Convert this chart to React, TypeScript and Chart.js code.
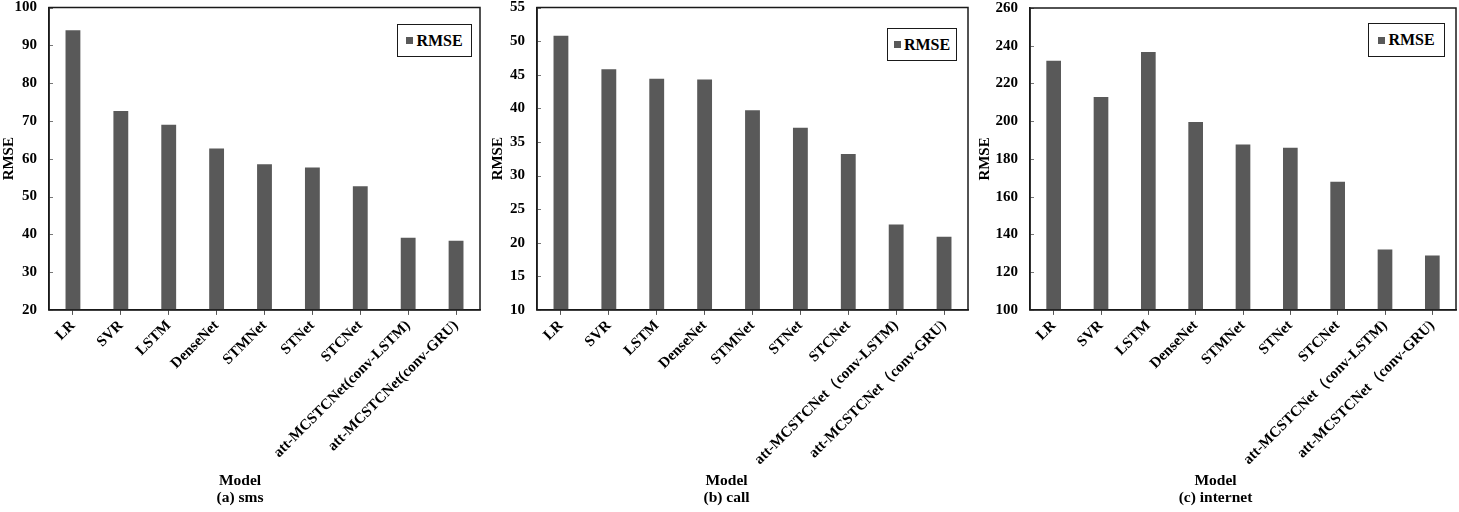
import React, { useEffect, useRef } from "react";
import { Chart, registerables } from "chart.js";

Chart.register(...registerables);

// ---- data ----
const modelsSms = [
  "LR", "SVR", "LSTM", "DenseNet", "STMNet", "STNet", "STCNet",
  "att-MCSTCNet(conv-LSTM)", "att-MCSTCNet(conv-GRU)",
];
const modelsCall = [
  "LR", "SVR", "LSTM", "DenseNet", "STMNet", "STNet", "STCNet",
  "att-MCSTCNet（conv-LSTM)", "att-MCSTCNet（conv-GRU)",
];
const modelsInternet = [
  "LR", "SVR", "LSTM", "DenseNet", "STMNet", "STNet", "STCNet",
  "att-MCSTCNet（conv-LSTM)", "att-MCSTCNet（conv-GRU)",
];
const rmseSms = [94.0, 72.6, 69.0, 62.7, 58.5, 57.7, 52.7, 39.1, 38.3];
const rmseCall = [50.8, 45.8, 44.4, 44.3, 39.7, 37.1, 33.2, 22.7, 20.9];
const rmseInternet = [232.1, 212.8, 236.7, 199.6, 187.7, 186.0, 167.9, 132.0, 128.8];

// y-axis ranges: [min, max, step]
const yRangeSms = [20, 100, 10];
const yRangeCall = [10, 55, 5];
const yRangeInternet = [100, 260, 20];

const seriesName = "RMSE";
const xTitle = "Model";
const subtitleSms = "(a) sms";
const subtitleCall = "(b) call";
const subtitleInternet = "(c) internet";

const BAR = "#595959";
const INK = "#1a1a1a";
const SERIF = '"Liberation Serif", "Times New Roman", serif';

const framePlugin = {
  id: "frame",
  afterDatasetsDraw(chart: any) {
    const { ctx, chartArea } = chart;
    const { left, top, right, bottom } = chartArea;
    ctx.save();
    // inward y tick marks
    const ys = chart.scales.y;
    ctx.strokeStyle = "#777";
    ctx.lineWidth = 1;
    ys.ticks.forEach((t: any) => {
      const py = Math.round(ys.getPixelForValue(t.value)) + 0.5;
      ctx.beginPath();
      ctx.moveTo(left, py);
      ctx.lineTo(left + 4, py);
      ctx.stroke();
    });
    ctx.strokeStyle = INK;
    ctx.lineWidth = 1.5;
    ctx.strokeRect(left, top, right - left, bottom - top);
    ctx.restore();
  },
};

type PanelProps = {
  labels: string[];
  values: number[];
  range: number[];
  subtitle: string;
  left: number;
  width: number;
  yWidth: number;
  yTitlePad: number;
  padRight: number;
  padTop: number;
  legend: { left: number; top: number; width: number; height: number };
};

function Panel(p: PanelProps) {
  const ref = useRef<HTMLCanvasElement | null>(null);
  useEffect(() => {
    if (!ref.current) return;
    const chart = new Chart(ref.current, {
      type: "bar",
      data: {
        labels: p.labels,
        datasets: [
          {
            label: seriesName,
            data: p.values,
            backgroundColor: BAR,
            borderWidth: 0,
            barPercentage: 0.31,
            categoryPercentage: 1,
          },
        ],
      },
      options: {
        responsive: false,
        animation: false,
        devicePixelRatio: 1,
        layout: { padding: { top: p.padTop, left: 0, right: p.padRight, bottom: 0 } },
        plugins: {
          legend: { display: false },
          tooltip: { enabled: false },
          title: {
            display: true,
            position: "bottom",
            text: [xTitle, p.subtitle],
            color: "#000",
            font: { family: SERIF, size: 15.5, weight: "bold", lineHeight: 1.1 },
            padding: { top: 4, bottom: 5 },
          },
        },
        scales: {
          x: {
            offset: true,
            grid: {
              display: true,
              drawOnChartArea: false,
              drawTicks: true,
              tickLength: 5,
              offset: false,
              color: "#555",
              lineWidth: 1,
            },
            border: { display: true, color: INK, width: 1.5 },
            ticks: {
              color: "#000",
              minRotation: 45,
              maxRotation: 45,
              autoSkip: false,
              padding: 2,
              font: { family: SERIF, size: 15, weight: "bold" },
            },
            afterFit: (scale: any) => {
              scale.height = 159;
            },
          },
          y: {
            min: p.range[0],
            max: p.range[1],
            grid: {
              display: true,
              drawOnChartArea: false,
              drawTicks: true,
              tickLength: 12,
              tickColor: "rgba(0,0,0,0)",
              color: "rgba(0,0,0,0)",
            },
            border: { display: true, color: INK, width: 1.5 },
            ticks: {
              stepSize: p.range[2],
              color: "#000",
              padding: 0,
              font: { family: SERIF, size: 15, weight: "bold", lineHeight: 1 },
            },
            title: {
              display: true,
              text: seriesName,
              color: "#000",
              font: { family: SERIF, size: 15, weight: "bold", lineHeight: 1.2 },
              padding: { top: p.yTitlePad, bottom: 0 },
            },
            afterFit: (scale: any) => {
              scale.width = p.yWidth;
            },
          },
        },
      },
      plugins: [framePlugin],
    } as any);
    return () => chart.destroy();
  }, []);

  return (
    <>
      <canvas
        ref={ref}
        width={p.width}
        height={512}
        style={{ position: "absolute", left: p.left, top: 0, width: p.width, height: 512 }}
      />
      <div
        style={{
          position: "absolute",
          left: p.legend.left,
          top: p.legend.top,
          width: p.legend.width,
          height: p.legend.height,
          border: `1.5px solid ${INK}`,
          background: "#fff",
          boxSizing: "border-box",
          display: "flex",
          alignItems: "center",
          justifyContent: "center",
          fontFamily: SERIF,
          fontSize: 16,
          fontWeight: "bold",
          color: "#000",
        }}
      >
        <span
          style={{
            display: "inline-block",
            width: 7,
            height: 7,
            background: BAR,
            marginRight: 3,
          }}
        />
        {seriesName}
      </div>
    </>
  );
}

export default function App() {
  return (
    <div
      style={{
        position: "absolute",
        left: 0,
        top: 0,
        width: 1459,
        height: 512,
        background: "#fff",
        overflow: "hidden",
      }}
    >
      <Panel
        labels={modelsSms}
        values={rmseSms}
        range={yRangeSms}
        subtitle={subtitleSms}
        left={0}
        width={485}
        yWidth={49}
        yTitlePad={0}
        padRight={5}
        padTop={7}
        legend={{ left: 397, top: 24, width: 75, height: 33 }}
      />
      <Panel
        labels={modelsCall}
        values={rmseCall}
        range={yRangeCall}
        subtitle={subtitleCall}
        left={485}
        width={490}
        yWidth={52}
        yTitlePad={4}
        padRight={7}
        padTop={7}
        legend={{ left: 887, top: 28, width: 70, height: 33 }}
      />
      <Panel
        labels={modelsInternet}
        values={rmseInternet}
        range={yRangeInternet}
        subtitle={subtitleInternet}
        left={975}
        width={484}
        yWidth={55}
        yTitlePad={1}
        padRight={3}
        padTop={8}
        legend={{ left: 1368, top: 23, width: 77, height: 34 }}
      />
    </div>
  );
}
